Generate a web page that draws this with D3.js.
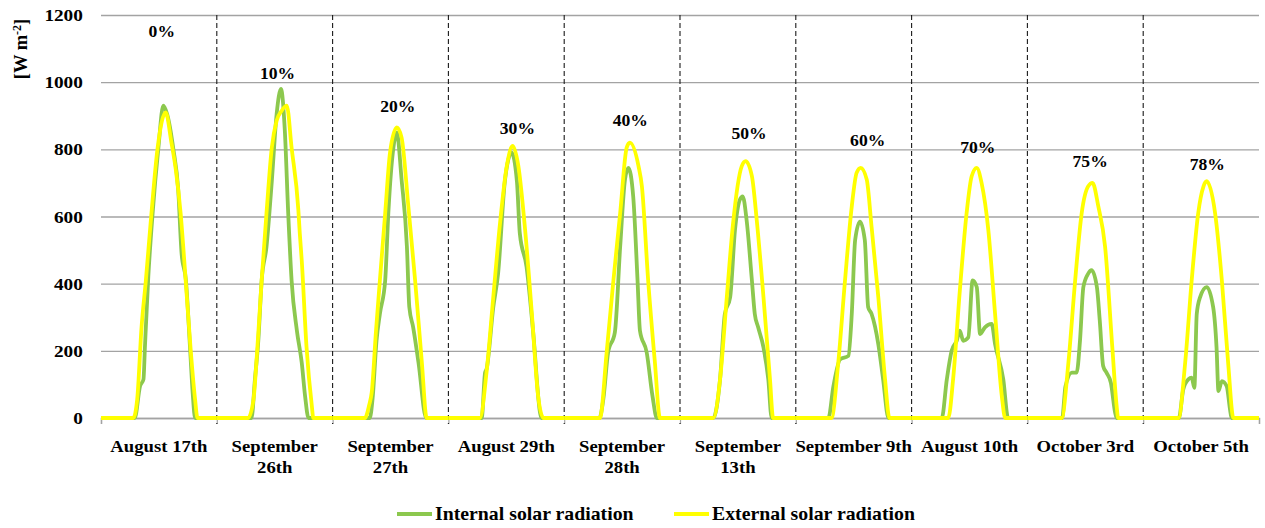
<!DOCTYPE html>
<html>
<head>
<meta charset="utf-8">
<script src="https://cdn.jsdelivr.net/npm/d3@7"></script>
<style>
  body { margin: 0; background: #fff; }
  svg text { font-family: "Liberation Serif", "DejaVu Serif", "Times New Roman", Times, serif; font-weight: bold; fill: #000; }
</style>
</head>
<body>
<div class="chart"></div>
<script>
// one category per measured day, label lines as they wrap in the picture
var day_labels = [
  ["August 17th"], ["September", "26th"], ["September", "27th"], ["August 29th"],
  ["September", "28th"], ["September", "13th"], ["September 9th"], ["August 10th"],
  ["October 3rd"], ["October 5th"]
];
var shading_labels = ["0%", "10%", "20%", "30%", "40%", "50%", "60%", "70%", "75%", "78%"];
// where the shading label sits: hour of the day and W/m2
var label_hour = [12.6, 12.6, 13.5, 14.3, 13.7, 14.3, 14.9, 13.7, 13.0, 13.3];
var label_value = [1146, 1021, 921, 858, 879, 843, 822, 801, 759, 750];
var y_ticks = [0, 200, 400, 600, 800, 1000, 1200];
var series_names = ["Internal solar radiation", "External solar radiation"];

// [hour, W/m2] per day
var internal = [
  [[0,0],[7.0,0],[8.1,95],[8.8,115],[9.1,210],[9.8,420],[10.7,610],[11.9,805],[12.9,930],[13.7,905],[15.0,800],[16.0,680],[16.7,490],[17.6,410],[18.45,210],[19.0,75],[19.5,0],[24,0]],
  [[0,0],[7.2,0],[7.9,115],[8.6,230],[9.3,410],[10.3,510],[11.4,705],[12.4,905],[13.3,980],[14.1,855],[14.8,610],[15.5,410],[16.6,260],[17.6,165],[18.3,65],[19.0,0],[24,0]],
  [[0,0],[7.7,0],[8.3,60],[9.1,230],[9.8,310],[10.9,410],[11.55,610],[12.6,805],[13.3,850],[14.3,710],[15.4,510],[15.9,330],[16.7,270],[17.8,165],[19.4,0],[24,0]],
  [[0,0],[6.9,0],[7.6,135],[7.9,145],[9.3,330],[10.3,430],[11.7,705],[13.1,790],[14.2,705],[14.8,550],[16.2,450],[17.6,250],[19.0,15],[19.3,0],[24,0]],
  [[0,0],[7.3,0],[8.1,55],[9.1,195],[10.5,255],[11.6,510],[12.6,710],[13.3,745],[14.3,660],[15.2,410],[15.7,260],[17.1,195],[18.3,65],[19.2,0],[24,0]],
  [[0,0],[6.9,0],[8.3,115],[9.3,310],[10.4,360],[11.4,560],[12.4,650],[13.0,660],[13.8,590],[14.9,410],[15.5,310],[16.2,270],[17.3,210],[18.3,115],[19.0,0],[24,0]],
  [[0,0],[6.75,0],[7.8,95],[9.2,175],[10.9,185],[11.6,310],[12.3,530],[13.3,585],[14.3,530],[15.0,330],[15.7,310],[17.1,220],[18.1,115],[19.2,0],[24,0]],
  [[0,0],[6.25,0],[7.3,115],[8.3,200],[9.35,230],[10.0,260],[10.7,230],[11.75,240],[12.65,410],[13.5,390],[14.2,250],[15.2,270],[16.6,280],[17.3,220],[19.0,115],[20.0,0],[24,0]],
  [[0,0],[7.2,0],[7.9,95],[9.2,135],[10.2,135],[10.9,230],[11.6,390],[12.6,430],[13.3,440],[14.4,390],[15.0,290],[15.7,155],[16.4,135],[17.3,105],[18.2,15],[18.5,0],[24,0]],
  [[0,0],[7.4,0],[8.3,85],[9.35,115],[10.05,120],[10.6,90],[11.1,310],[11.8,360],[13.15,390],[14.5,330],[15.2,210],[15.6,80],[16.3,110],[17.3,95],[18.0,25],[18.3,0],[24,0]]
];
var external = [
  [[0,0],[6.7,0],[7.5,55],[8.4,270],[9.3,410],[10.4,600],[11.7,800],[13.4,910],[14.6,820],[15.5,740],[16.5,610],[17.5,420],[18.6,200],[19.5,55],[20.0,0],[24,0]],
  [[0,0],[6.5,0],[7.6,55],[8.3,185],[9.3,410],[10.3,610],[11.4,805],[12.4,885],[13.45,915],[14.5,930],[15.5,805],[16.9,620],[17.2,550],[17.6,470],[18.6,210],[19.7,35],[20.0,0],[24,0]],
  [[0,0],[6.7,0],[7.6,40],[8.1,75],[9.0,260],[9.8,410],[10.9,610],[11.9,790],[13.3,865],[14.3,835],[15.7,630],[17.1,410],[18.5,165],[19.5,0],[24,0]],
  [[0,0],[6.55,0],[7.9,135],[9.3,360],[10.7,580],[12.1,750],[13.3,810],[14.5,750],[15.9,560],[17.3,310],[18.6,65],[19.7,0],[24,0]],
  [[0,0],[7.4,0],[8.8,195],[10.2,410],[11.6,610],[12.95,805],[13.6,820],[15.4,750],[16.1,690],[17.4,410],[18.8,165],[19.85,0],[24,0]],
  [[0,0],[6.9,0],[8.3,115],[9.7,360],[11.0,580],[12.8,750],[13.6,765],[14.9,720],[15.9,590],[17.3,360],[18.65,115],[19.3,0],[24,0]],
  [[0,0],[7.4,0],[8.8,165],[10.2,410],[11.6,630],[12.6,730],[13.45,745],[14.7,710],[15.7,570],[17.1,360],[18.5,115],[19.4,0],[24,0]],
  [[0,0],[7.6,0],[8.6,115],[10.0,380],[11.4,610],[12.45,720],[13.5,745],[14.5,700],[15.9,560],[17.3,310],[18.7,65],[19.4,0],[24,0]],
  [[0,0],[7.1,0],[8.5,165],[9.9,410],[11.25,610],[12.6,690],[13.5,700],[14.7,630],[16.1,510],[17.6,210],[18.5,35],[18.8,0],[24,0]],
  [[0,0],[7.3,0],[8.7,165],[10.05,410],[11.4,610],[12.5,690],[13.15,705],[14.9,610],[16.3,410],[17.6,165],[18.7,0],[24,0]]
];

var colors = { internal: "#8cc84e", external: "#ffff00" };
var font = "'Liberation Serif', 'DejaVu Serif', serif";
var stretch = " scale(1.1,1)"; // the source picture is a bit wide, text included

var width = 1265, height = 528;
var margin = { top: 15, right: 6, bottom: 110, left: 101 };
var inner_width = width - margin.left - margin.right;
var inner_height = height - margin.top - margin.bottom;

var svg = d3.select(".chart").append("svg")
  .attr("width", width)
  .attr("height", height)
  .attr("font-family", font);

var g = svg.append("g")
  .attr("transform", "translate(" + margin.left + "," + margin.top + ")");

var n_days = day_labels.length;
var x_scale = d3.scaleLinear().domain([0, n_days * 24]).range([0, inner_width]);
var x_band = d3.scaleBand().domain(d3.range(n_days)).range([0, inner_width]).padding(0);
var y_scale = d3.scaleLinear().domain([0, 1200]).range([inner_height, 0]);

// horizontal grid + y labels
var y_axis = g.append("g")
  .call(d3.axisLeft(y_scale).tickValues(y_ticks).tickFormat(d3.format("d")).tickSize(-inner_width).tickPadding(16.5));
y_axis.attr("font-family", font);
y_axis.select(".domain").remove();
y_axis.selectAll("line").attr("stroke", "#a3a3a3").attr("stroke-width", 1.4);
y_axis.selectAll("text").style("font-size", "17.5px").attr("transform", stretch);

// x axis line with ticks at day boundaries
var x_axis = g.append("g")
  .attr("transform", "translate(0," + inner_height + ")")
  .call(d3.axisBottom(x_scale).tickValues(d3.range(0, n_days * 24 + 1, 24)).tickSize(6).tickFormat(""));
x_axis.select(".domain").attr("stroke", "#a3a3a3").attr("stroke-width", 1.4);
x_axis.selectAll("line").attr("stroke", "#a3a3a3").attr("stroke-width", 1.2);

// dashed day separators
g.selectAll(".sep")
  .data(d3.range(24, n_days * 24, 24))
  .enter().append("line")
  .attr("class", "sep")
  .attr("x1", d => x_scale(d)).attr("x2", d => x_scale(d))
  .attr("y1", 0).attr("y2", inner_height + 6)
  .attr("stroke", "#1a1a1a")
  .attr("stroke-width", 1.1)
  .attr("stroke-dasharray", "5,3");

// category labels
var cat = g.selectAll(".cat")
  .data(day_labels)
  .enter().append("text")
  .attr("class", "cat")
  .attr("text-anchor", "middle")
  .attr("transform", (d, i) => "translate(" + (x_band(i) + x_band.bandwidth() / 2) + "," + (inner_height + 34) + ")" + stretch)
  .style("font-size", "17px");
cat.selectAll("tspan")
  .data(d => d)
  .enter().append("tspan")
  .attr("x", 0)
  .attr("dy", (d, i) => i === 0 ? 0 : 21)
  .text(d => d);

// lines
var line = d3.line()
  .x(d => d[0])
  .y(d => y_scale(d[1]))
  .curve(d3.curveMonotoneX);

function draw_series(data, color, cls) {
  g.selectAll("." + cls)
    .data(data)
    .enter().append("path")
    .attr("class", cls)
    .attr("fill", "none")
    .attr("stroke", color)
    .attr("stroke-width", 3.8)
    .attr("stroke-linejoin", "round")
    .attr("d", (day, i) => line(day.map(p => [x_scale(i * 24 + p[0]), p[1]])));
}
draw_series(internal, colors.internal, "internal");
draw_series(external, colors.external, "external");

// shading percentage labels
g.selectAll(".pct")
  .data(shading_labels)
  .enter().append("text")
  .attr("class", "pct")
  .attr("text-anchor", "middle")
  .attr("dominant-baseline", "middle")
  .attr("transform", (d, i) => "translate(" + x_scale(i * 24 + label_hour[i]) + "," + y_scale(label_value[i]) + ")" + stretch)
  .style("font-size", "16px")
  .text(d => d);

// y title
var title = svg.append("text")
  .attr("transform", "translate(27,49) rotate(-90)")
  .attr("text-anchor", "middle")
  .style("font-size", "18.5px");
title.append("tspan").text("[W m");
title.append("tspan").attr("dy", -6).style("font-size", "12px").text("-2");
title.append("tspan").attr("dy", 6).text("]");

// legend
var legend = svg.append("g").attr("transform", "translate(397,514)");
var legend_items = legend.selectAll("g")
  .data(series_names)
  .enter().append("g")
  .attr("transform", (d, i) => "translate(" + (i * 277) + ",0)");
legend_items.append("line")
  .attr("x1", 0).attr("x2", 35)
  .attr("y1", 0).attr("y2", 0)
  .attr("stroke", (d, i) => i === 0 ? colors.internal : colors.external)
  .attr("stroke-width", 3.8);
legend_items.append("text")
  .attr("transform", "translate(38,6)" + stretch)
  .style("font-size", "18px")
  .text(d => d);
</script>
</body>
</html>
